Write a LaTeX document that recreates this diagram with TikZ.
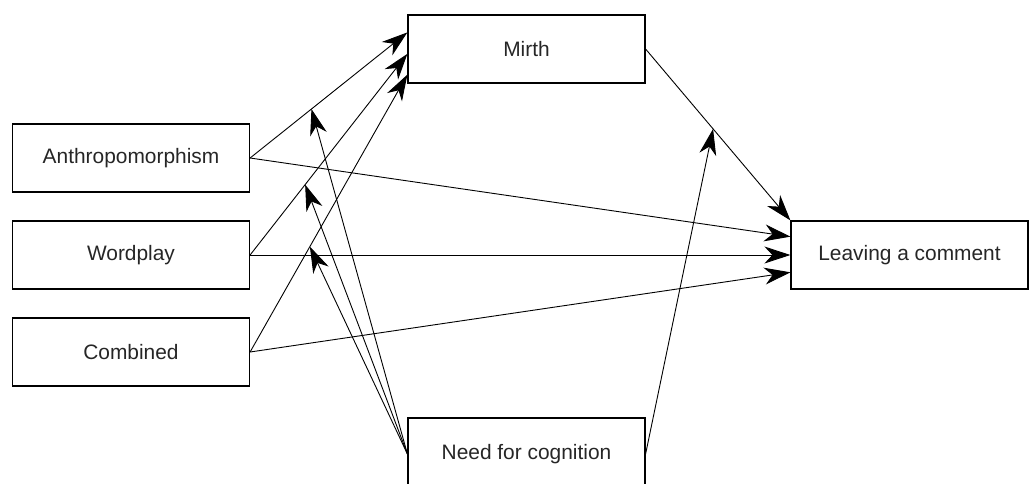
\documentclass[tikz,border=0pt]{standalone}
\usepackage{fontspec}
\setmainfont{Liberation Sans}
\usetikzlibrary{arrows.meta,calc}
\begin{document}
\begin{tikzpicture}[x=1pt,y=-1pt,
  box/.style={draw,line width=1.2pt,minimum width=237pt,minimum height=68pt,inner sep=0pt,
    font=\fontsize{20.9pt}{24pt}\selectfont,text=black!85},
  arr/.style={line width=0.9pt,-{Stealth[length=26pt,width=17pt,inset=8pt]}}]
\useasboundingbox (0,0) rectangle (1029,483);
\clip (0,0) rectangle (1029,483);
\node[box] (mirth) at (526.5,49) {Mirth};
\node[box] (anth) at (131,158) {Anthropomorphism};
\node[box] (word) at (131,255) {Wordplay};
\node[box] (comb) at (131,352) {Combined};
\node[box] (leave) at (909.5,255) {Leaving a comment};
\node[box,minimum height=72pt] (nfc) at (526.5,454) {Need for cognition};
% coordinates on edges
\coordinate (m1) at ($(mirth.north west)!0.26!(mirth.south west)$);
\coordinate (m2) at ($(mirth.north west)!0.57!(mirth.south west)$);
\coordinate (m3) at ($(mirth.north west)!0.87!(mirth.south west)$);
\coordinate (l1) at ($(leave.north west)!0.235!(leave.south west)$);
\coordinate (l3) at ($(leave.north west)!0.75!(leave.south west)$);
% paths
\draw[arr] (anth.east) -- coordinate[pos=0.39] (p1) (m1);
\draw[arr] (word.east) -- coordinate[pos=0.35] (p2) (m2);
\draw[arr] (comb.east) -- coordinate[pos=0.38] (p3) (m3);
\draw[arr] (mirth.east) -- coordinate[pos=0.466] (p4) (leave.north west);
\draw[arr] (anth.east) -- (l1);
\draw[arr] (word.east) -- (leave.west);
\draw[arr] (comb.east) -- (l3);
% moderation
\draw[arr] (nfc.west) -- (p1);
\draw[arr] (nfc.west) -- (p2);
\draw[arr] (nfc.west) -- (p3);
\draw[arr] (nfc.east) -- (p4);
\end{tikzpicture}
\end{document}
